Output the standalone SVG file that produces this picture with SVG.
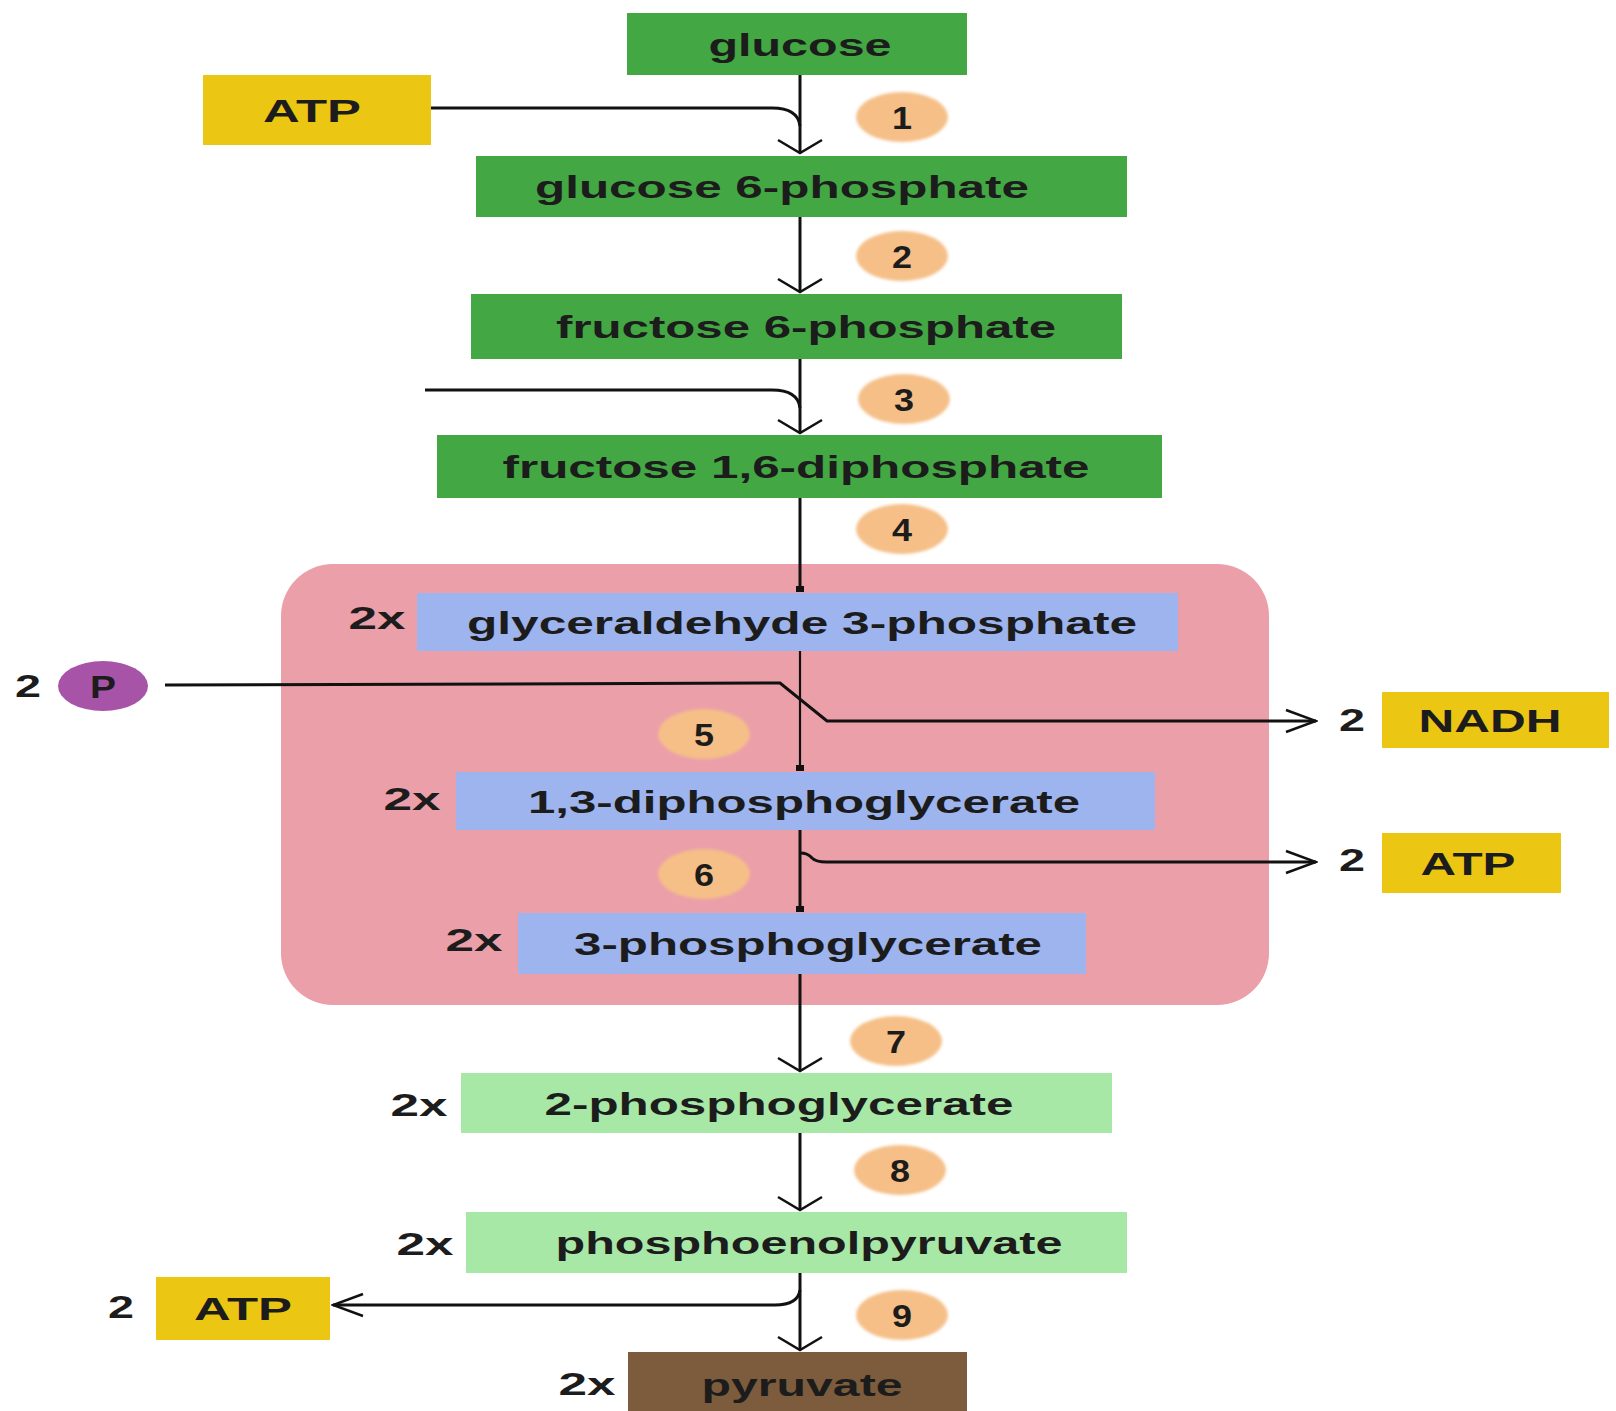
<svg xmlns="http://www.w3.org/2000/svg" width="1616" height="1411" viewBox="0 0 1616 1411">
<style>
text{font-family:"Liberation Sans",Arial,sans-serif;font-weight:bold;fill:#1c1c1c;text-anchor:middle}
.lbl{font-size:32px}
.num{font-size:32px}
.mult{font-size:31px}
.g{fill:#43a843}
.y{fill:#ebc613}
.b{fill:#9db4ee}
.lg{fill:#a8e8a7}
.br{fill:#7c5c3d}
.step{fill:#f5bf87}
.ln{fill:none;stroke:#111;stroke-width:3}
.thin{fill:none;stroke:#111;stroke-width:2.2}
</style>
<defs>
<marker id="arrV" markerUnits="userSpaceOnUse" viewBox="-16 -25 18 50" refX="0" refY="0" markerWidth="18" markerHeight="50" orient="auto">
<path d="M-13,-22 L0,0 L-13,22" fill="none" stroke="#111" stroke-width="2.5"/>
</marker>
<marker id="arrH" markerUnits="userSpaceOnUse" viewBox="-33 -14 35 28" refX="0" refY="0" markerWidth="35" markerHeight="28" orient="auto">
<path d="M-30,-11 L0,0 L-30,11" fill="none" stroke="#111" stroke-width="2.5"/>
</marker>
<marker id="dot" markerUnits="userSpaceOnUse" viewBox="-5 -5 10 10" refX="0" refY="0" markerWidth="10" markerHeight="10" orient="auto">
<rect x="-3" y="-4" width="6" height="8" fill="#111"/>
</marker>
<filter id="soft" x="-20%" y="-20%" width="140%" height="140%"><feGaussianBlur stdDeviation="1.5"/></filter>
</defs>

<rect id="cytosol-box" x="281" y="564" width="988" height="441" rx="52" fill="#eb9fa9"/>

<g id="connectors">
<path class="ln" d="M800,75 V153" marker-end="url(#arrV)"/>
<path class="ln" d="M431,108 H772 Q798,108 800,126"/>
<path class="ln" d="M800,217 V292" marker-end="url(#arrV)"/>
<path class="ln" d="M800,359 V433" marker-end="url(#arrV)"/>
<path class="ln" d="M425,390 H772 Q798,390 800,408"/>
<path class="ln" d="M800,498 V589" marker-end="url(#dot)"/>
<path class="thin" d="M800,651 V768" marker-end="url(#dot)"/>
<path class="ln" d="M165,685 L780,683 L827,721 H1316" marker-end="url(#arrH)"/>
<path class="ln" d="M800,830 V909" marker-end="url(#dot)"/>
<path class="ln" d="M800,853 Q808,853 812,858 Q816,862 826,862 H1316" marker-end="url(#arrH)"/>
<path class="ln" d="M800,974 V1071" marker-end="url(#arrV)"/>
<path class="ln" d="M800,1133 V1210" marker-end="url(#arrV)"/>
<path class="ln" d="M800,1273 V1350" marker-end="url(#arrV)"/>
<path class="ln" d="M800,1290 Q798,1305 775,1305 H333" marker-end="url(#arrH)"/>
</g>

<g id="glucose"><rect class="g" x="627" y="13" width="340" height="62"/><text class="lbl" x="800" y="56" textLength="183" lengthAdjust="spacingAndGlyphs">glucose</text></g>
<g id="atp-in-1"><rect class="y" x="203" y="75" width="228" height="70"/><text class="lbl" x="312" y="122" textLength="98" lengthAdjust="spacingAndGlyphs">ATP</text></g>
<g id="glucose-6-phosphate"><rect class="g" x="476" y="156" width="651" height="61"/><text class="lbl" x="782" y="198" textLength="494" lengthAdjust="spacingAndGlyphs">glucose 6-phosphate</text></g>
<g id="fructose-6-phosphate"><rect class="g" x="471" y="294" width="651" height="65"/><text class="lbl" x="806" y="338" textLength="500" lengthAdjust="spacingAndGlyphs">fructose 6-phosphate</text></g>
<g id="fructose-16-diphosphate"><rect class="g" x="437" y="435" width="725" height="63"/><text class="lbl" x="796" y="478" textLength="587" lengthAdjust="spacingAndGlyphs">fructose 1,6-diphosphate</text></g>

<g id="g3p"><rect class="b" x="417" y="593" width="761" height="58"/><text class="lbl" x="802" y="634" textLength="670" lengthAdjust="spacingAndGlyphs">glyceraldehyde 3-phosphate</text><text class="mult" x="377" y="629" textLength="57" lengthAdjust="spacingAndGlyphs">2x</text></g>
<g id="phosphate-in"><text class="mult" x="28" y="697" textLength="26" lengthAdjust="spacingAndGlyphs">2</text><ellipse cx="103" cy="686" rx="45" ry="25" fill="#a754a8"/><text class="num" x="103" y="698" textLength="26" lengthAdjust="spacingAndGlyphs">P</text></g>
<g id="nadh-out"><text class="mult" x="1352" y="731" textLength="26" lengthAdjust="spacingAndGlyphs">2</text><rect class="y" x="1382" y="692" width="227" height="56"/><text class="lbl" x="1490" y="732" textLength="143" lengthAdjust="spacingAndGlyphs">NADH</text></g>
<g id="dpg"><rect class="b" x="456" y="772" width="699" height="58"/><text class="lbl" x="804" y="813" textLength="552" lengthAdjust="spacingAndGlyphs">1,3-diphosphoglycerate</text><text class="mult" x="412" y="810" textLength="57" lengthAdjust="spacingAndGlyphs">2x</text></g>
<g id="atp-out-1"><text class="mult" x="1352" y="871" textLength="26" lengthAdjust="spacingAndGlyphs">2</text><rect class="y" x="1382" y="833" width="179" height="60"/><text class="lbl" x="1468" y="875" textLength="95" lengthAdjust="spacingAndGlyphs">ATP</text></g>
<g id="3pg"><rect class="b" x="518" y="913" width="568" height="61"/><text class="lbl" x="808" y="955" textLength="468" lengthAdjust="spacingAndGlyphs">3-phosphoglycerate</text><text class="mult" x="474" y="951" textLength="57" lengthAdjust="spacingAndGlyphs">2x</text></g>

<g id="2pg"><rect class="lg" x="461" y="1073" width="651" height="60"/><text class="lbl" x="779" y="1115" textLength="469" lengthAdjust="spacingAndGlyphs">2-phosphoglycerate</text><text class="mult" x="419" y="1116" textLength="57" lengthAdjust="spacingAndGlyphs">2x</text></g>
<g id="pep"><rect class="lg" x="466" y="1212" width="661" height="61"/><text class="lbl" x="809" y="1254" textLength="507" lengthAdjust="spacingAndGlyphs">phosphoenolpyruvate</text><text class="mult" x="425" y="1255" textLength="57" lengthAdjust="spacingAndGlyphs">2x</text></g>
<g id="atp-out-2"><text class="mult" x="121" y="1318" textLength="26" lengthAdjust="spacingAndGlyphs">2</text><rect class="y" x="156" y="1277" width="174" height="63"/><text class="lbl" x="243" y="1320" textLength="98" lengthAdjust="spacingAndGlyphs">ATP</text></g>
<g id="pyruvate"><rect class="br" x="628" y="1352" width="339" height="70"/><text class="lbl" x="802" y="1396" textLength="201" lengthAdjust="spacingAndGlyphs">pyruvate</text><text class="mult" x="587" y="1395" textLength="57" lengthAdjust="spacingAndGlyphs">2x</text></g>

<g id="steps">
<g id="step1"><ellipse class="step" cx="902" cy="117" rx="46" ry="25" filter="url(#soft)"/><text class="num" x="902" y="129" textLength="20" lengthAdjust="spacingAndGlyphs">1</text></g>
<g id="step2"><ellipse class="step" cx="902" cy="256" rx="46" ry="25" filter="url(#soft)"/><text class="num" x="902" y="268" textLength="20" lengthAdjust="spacingAndGlyphs">2</text></g>
<g id="step3"><ellipse class="step" cx="904" cy="399" rx="46" ry="25" filter="url(#soft)"/><text class="num" x="904" y="411" textLength="20" lengthAdjust="spacingAndGlyphs">3</text></g>
<g id="step4"><ellipse class="step" cx="902" cy="529" rx="46" ry="25" filter="url(#soft)"/><text class="num" x="902" y="541" textLength="20" lengthAdjust="spacingAndGlyphs">4</text></g>
<g id="step5"><ellipse class="step" cx="704" cy="734" rx="46" ry="25" filter="url(#soft)"/><text class="num" x="704" y="746" textLength="20" lengthAdjust="spacingAndGlyphs">5</text></g>
<g id="step6"><ellipse class="step" cx="704" cy="874" rx="46" ry="25" filter="url(#soft)"/><text class="num" x="704" y="886" textLength="20" lengthAdjust="spacingAndGlyphs">6</text></g>
<g id="step7"><ellipse class="step" cx="896" cy="1041" rx="46" ry="25" filter="url(#soft)"/><text class="num" x="896" y="1053" textLength="20" lengthAdjust="spacingAndGlyphs">7</text></g>
<g id="step8"><ellipse class="step" cx="900" cy="1170" rx="46" ry="25" filter="url(#soft)"/><text class="num" x="900" y="1182" textLength="20" lengthAdjust="spacingAndGlyphs">8</text></g>
<g id="step9"><ellipse class="step" cx="902" cy="1315" rx="46" ry="25" filter="url(#soft)"/><text class="num" x="902" y="1327" textLength="20" lengthAdjust="spacingAndGlyphs">9</text></g>
</g>
</svg>
